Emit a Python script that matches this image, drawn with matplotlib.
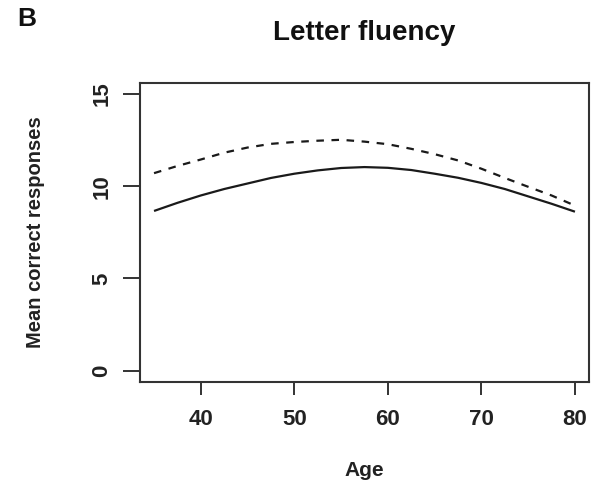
import matplotlib
matplotlib.use("Agg")
import matplotlib.pyplot as plt

# ===========================
# Data
# ===========================
ages = [35, 37.5, 40, 42.5, 45, 47.5, 50, 52.5, 55, 57.5,
        60, 62.5, 65, 67.5, 70, 72.5, 75, 77.5, 80]
solid_vals = [8.66, 9.1, 9.5, 9.85, 10.15, 10.45, 10.68, 10.86, 10.99, 11.04,
              11.0, 10.88, 10.68, 10.46, 10.18, 9.85, 9.45, 9.05, 8.62]
dashed_vals = [10.71, 11.1, 11.45, 11.82, 12.1, 12.3, 12.4, 12.47, 12.52, 12.42,
               12.28, 12.03, 11.74, 11.4, 10.95, 10.45, 9.97, 9.5, 8.95]

x_ticks = [40, 50, 60, 70, 80]
y_ticks = [0, 5, 10, 15]

plt.rcParams['font.family'] = ['Liberation Sans', 'DejaVu Sans']

fig = plt.figure(figsize=(5.95, 4.83), dpi=100)
ax = fig.add_axes([140/595, 1 - 381.7/483, 449/595, 298.7/483])

ax.plot(ages, solid_vals, color='#1a1a1a', lw=1.6, solid_capstyle='butt')
ax.plot(ages, dashed_vals, color='#1a1a1a', lw=1.6, dashes=(3.4, 3.4))

ax.set_xlim(33.5, 81.5)
ax.set_ylim(-0.6, 15.6)

ax.set_xticks(x_ticks)
ax.set_yticks(y_ticks)
ax.set_xticklabels([str(t) for t in x_ticks], fontsize=16, fontweight='bold', color='#222')
ax.set_yticklabels([str(t) for t in y_ticks], fontsize=16, fontweight='bold', color='#222',
                   rotation=90, va='center')

ax.tick_params(axis='x', direction='out', length=9.5, width=1.4, pad=10, color='#333')
ax.tick_params(axis='y', direction='out', length=12, width=1.4, pad=8, color='#333')

for s in ax.spines.values():
    s.set_linewidth(1.5)
    s.set_color('#333')

ax.set_xlabel("Age", fontsize=15, fontweight='bold', color='#222')
ax.xaxis.set_label_coords(0.5, (381.7 - 471) / 298.7)
ax.xaxis.label.set_va('center')

ax.set_ylabel("Mean correct responses", fontsize=14.5, fontweight='bold', color='#222')
ax.yaxis.set_label_coords((36 - 140) / 449, 0.5)
ax.yaxis.label.set_va('center')

ax.set_title("Letter fluency", fontsize=20, fontweight='bold', color='#111',
             y=(381.7 - 33) / 298.7, va='center', pad=0)

fig.text(17/595, 1 - 19/483, "B", fontsize=19, fontweight='bold', color='#111',
         ha='left', va='center')

fig.savefig("out.png", dpi=100)
